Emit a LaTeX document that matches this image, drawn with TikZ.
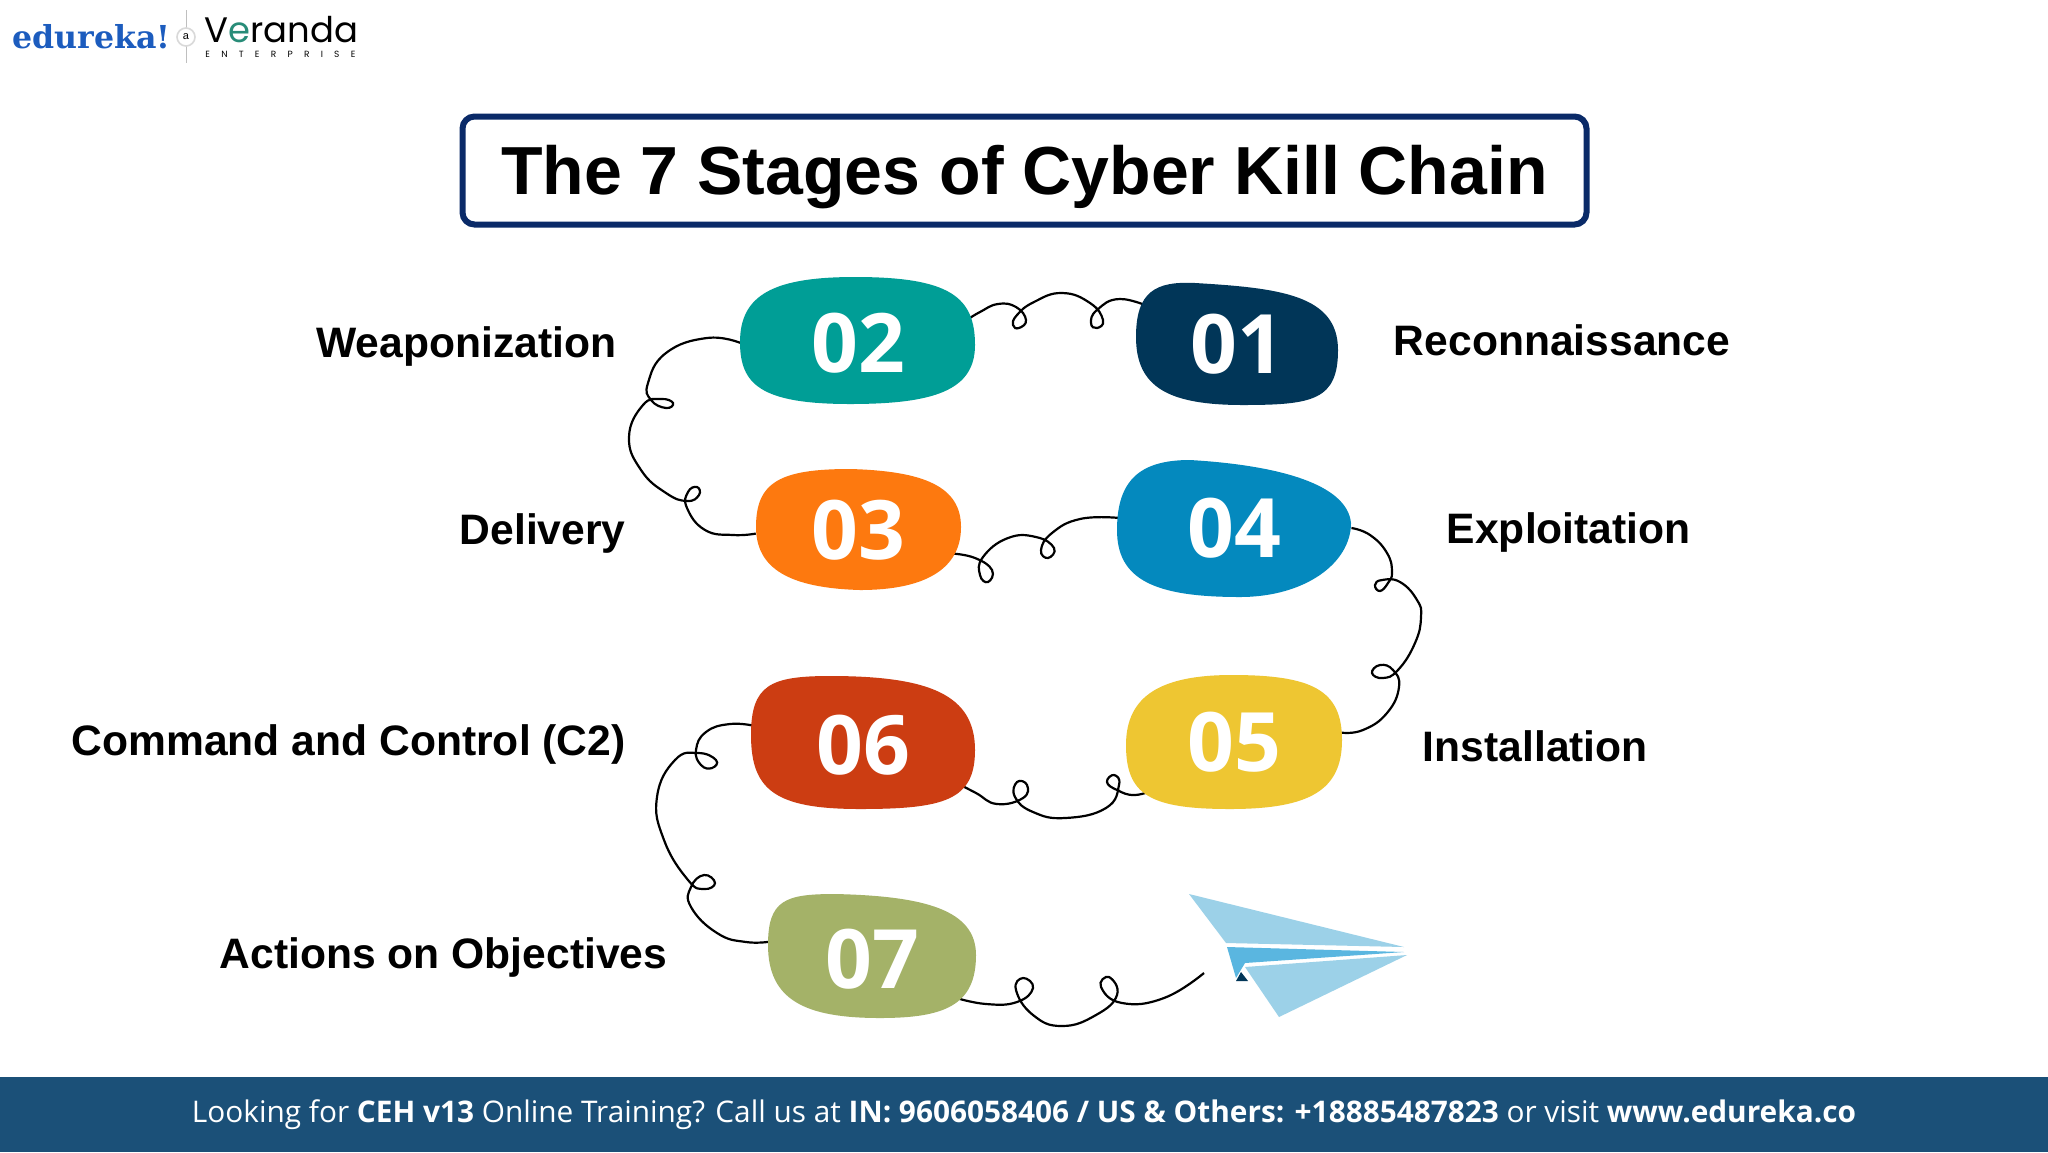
\documentclass[tikz,border=0pt]{standalone}
\usepackage{fontspec}
\usepackage{xcolor}
\setmainfont{Liberation Sans}
\newfontfamily\numfont{Open Sans}
\newfontfamily\logofont{DejaVu Serif}
\newfontfamily\verfont{Poppins}
\usetikzlibrary{positioning,shapes.geometric,backgrounds}
\definecolor{titlenavy}{RGB}{10,42,104}
\definecolor{footblue}{RGB}{27,80,120}
\definecolor{logoblue}{RGB}{28,92,190}
\definecolor{logoteal}{RGB}{40,140,120}
\definecolor{cteal}{RGB}{0,158,150}
\definecolor{cnavy}{RGB}{1,54,88}
\definecolor{corange}{RGB}{253,121,15}
\definecolor{cblue}{RGB}{4,137,190}
\definecolor{cyellow}{RGB}{238,198,50}
\definecolor{cred}{RGB}{204,61,18}
\definecolor{cgreen}{RGB}{164,178,104}
\definecolor{planelight}{RGB}{156,209,232}
\definecolor{planemid}{RGB}{90,182,224}

\begin{document}
\begin{tikzpicture}[x=0.5pt,y=-0.5pt,
          numnode/.style={ellipse, inner sep=0pt, text=white,
                          font=\numfont\bfseries\fontsize{41}{41}\selectfont},
          stagelabel/.style={font=\bfseries\fontsize{21.3}{21.3}\selectfont, text=black},
          squiggle/.style={line width=1.1pt, black}]
  \useasboundingbox (0,0) rectangle (2048,1152);

  % stage blobs
  \node[numnode, minimum width=101pt, minimum height=61pt] (n01) at (1237,344) {01};
  \node[numnode, minimum width=117pt, minimum height=63pt] (n02) at (858,343) {02};
  \node[numnode, minimum width=102pt, minimum height=60pt] (n03) at (858,530) {03};
  \node[numnode, minimum width=117pt, minimum height=68pt] (n04) at (1234,528) {04};
  \node[numnode, minimum width=108pt, minimum height=67pt] (n05) at (1234,742) {05};
  \node[numnode, minimum width=112pt, minimum height=66pt] (n06) at (863,745) {06};
  \node[numnode, minimum width=104pt, minimum height=62pt] (n07) at (872,959) {07};

  % labels
  \node[stagelabel, left=58.7pt of n02, yshift=-1.8pt] (l02) {Weaponization};
  \node[stagelabel, right=24.2pt of n01, yshift=2pt] (l01) {Reconnaissance};
  \node[stagelabel, left=61.5pt of n03, yshift=-1.6pt] (l03) {Delivery};
  \node[stagelabel, right=44.2pt of n04, yshift=-2.4pt] (l04) {Exploitation};
  \node[stagelabel, left=59pt of n06, yshift=0.3pt] (l06) {Command and Control (C2)};
  \node[stagelabel, right=36.7pt of n05, yshift=-2pt] (l05) {Installation};
  \node[stagelabel, left=46.7pt of n07, yshift=0.8pt] (l07) {Actions on Objectives};

  % title and footer
  \node[draw=titlenavy, line width=3pt, fill=white, rounded corners=6pt,
        minimum width=562pt, minimum height=54pt, text height=24.5pt, text depth=0.5pt,
        font=\bfseries\fontsize{34}{34}\selectfont] (title) at (1024.5,170.5)
        {The 7 Stages of Cyber Kill Chain};
  \node[fill=footblue, minimum width=1024pt, minimum height=37.5pt, inner sep=0pt,
        text=white, font=\numfont\fontsize{14.9}{14.9}\selectfont] (foot) at (1024,1114.5)
        {Looking for \textbf{CEH v13} Online Training? Call us at \textbf{IN: 9606058406 / US \& Others: +18885487823} or visit \textbf{www.edureka.co}};

  % logo
  \node[anchor=west, inner sep=0pt, text=logoblue,
        font=\logofont\bfseries\fontsize{15.8}{15.8}\selectfont] (edu) at (12,37) {edureka!};
  \coordinate (septop) at (186,10);
  \coordinate (sepbot) at (186,63);
  \draw[black!25, line width=0.4pt] (septop) -- (sepbot);
  \node[circle, draw=black!15, line width=0.8pt, fill=white, inner sep=0pt, minimum size=9pt,
        font=\fontsize{5.5}{5.5}\selectfont] (at) at (186,37) {a};
  \node[anchor=west, inner sep=0pt, font=\verfont\fontsize{17.7}{17.7}\selectfont] (ver) at (204,30) {V\textcolor{logoteal}{e}randa};
  \node[anchor=west, inner sep=0pt, font=\verfont\fontsize{4.5}{4.5}\selectfont] (ent) at (205,54)
        {\makebox[75pt][s]{E\hfill N\hfill T\hfill E\hfill R\hfill P\hfill R\hfill I\hfill S\hfill E}};

  \coordinate (planeend) at (1204,973);

  \begin{scope}[on background layer]
    \fill[white] (0,0) rectangle (2048,1152);
    % connectors
    \draw[squiggle] plot[smooth, tension=0.8] coordinates {(n01.157) (1120,299) (1097,310) (1091,323) (1097,328) (1103,320) (1090,303) (1062,293) (1034,302) (1017,315) (1013,325) (1019,328) (1026,320) (1016,307) (998,304) (980,312) (n02.12)};
    \draw[squiggle] plot[smooth, tension=0.8] coordinates {(n02.180) (707,338) (666,353) (648,383) (651,400) (666,408) (673,403) (661,399) (643,405) (629,437) (641,470) (666,493) (687,501) (699,495) (697,487) (688,492) (687,508) (705,530) (733,535) (n03.182)};
    \draw[squiggle] plot[smooth, tension=0.8] coordinates {(n03.346) (975,558) (992,570) (988,582) (980,575) (983,557) (1008,538) (1036,537) (1054,548) (1048,558) (1041,550) (1052,533) (1080,519) (n04.175)};
    \draw[squiggle] plot[smooth, tension=0.8] coordinates {(n04.east) (1370,535) (1387,553) (1392,572) (1388,583) (1380,591) (1375,585) (1382,580) (1400,582) (1417,600) (1421,617) (1415,643) (1398,670) (1383,678) (1372,673) (1380,665) (1393,670) (1399,687) (1387,713) (1363,730) (n05.5)};
    \draw[squiggle] plot[smooth, tension=0.8] coordinates {(n05.211) (1135,795) (1117,790) (1107,782) (1114,775) (1119,785) (1106,808) (1065,818) (1033,812) (1015,797) (1017,782) (1027,785) (1023,798) (997,804) (976,793) (n06.338)};
    \draw[squiggle] plot[smooth, tension=0.8] coordinates {(n06.170) (730,724) (706,732) (696,750) (701,765) (712,768) (716,760) (698,753) (675,760) (657,797) (664,840) (688,880) (704,889) (715,883) (704,875) (691,887) (691,907) (717,933) (746,942) (n07.170)};
    \draw[squiggle] plot[smooth, tension=0.8] coordinates {(n07.335) (986,1004) (1017,1002) (1033,988) (1023,978) (1016,990) (1033,1015) (1062,1026) (1096,1015) (1117,995) (1109,977) (1101,987) (1122,1003) (1164,998) (planeend)};
    % blob outlines
    \fill[cnavy] (1195,283) .. controls +(85,5) and +(0,-55) .. (1338,350) .. controls +(0,50) and +(70,0) .. (1243,405) .. controls +(-75,0) and +(0,50) .. (1136,337) .. controls +(0,-45) and +(-40,-2) .. cycle;
    \fill[cteal] (855,277) .. controls +(95,0) and +(0,-48) .. (975,345) .. controls +(0,45) and +(85,0) .. (850,404) .. controls +(-90,0) and +(0,42) .. (740,342) .. controls +(0,-48) and +(-80,0) .. cycle;
    \fill[corange] (850,469) .. controls +(75,2) and +(0,-40) .. (961,527) .. controls +(0,42) and +(65,0) .. (860,590) .. controls +(-70,-2) and +(0,42) .. (756,527) .. controls +(0,-45) and +(-70,0) .. cycle;
    \fill[cblue] (1190,460) .. controls +(85,5) and +(-4,-40) .. (1351,523) .. controls +(0,40) and +(65,0) .. (1240,597) .. controls +(-85,0) and +(0,50) .. (1117,530) .. controls +(0,-50) and +(-50,0) .. cycle;
    \fill[cyellow] (1232,675) .. controls +(80,0) and +(0,-50) .. (1342,740) .. controls +(0,50) and +(80,0) .. (1230,809) .. controls +(-80,0) and +(0,50) .. (1126,745) .. controls +(0,-50) and +(-70,0) .. cycle;
    \fill[cred] (830,676) .. controls +(100,0) and +(0,-55) .. (975,750) .. controls +(0,50) and +(85,0) .. (860,809) .. controls +(-85,0) and +(0,55) .. (751,735) .. controls +(0,-50) and +(-60,0) .. cycle;
    \fill[cgreen] (835,894) .. controls +(90,2) and +(0,-45) .. (976,955) .. controls +(0,50) and +(65,0) .. (880,1018) .. controls +(-75,0) and +(0,55) .. (768,945) .. controls +(0,-45) and +(-50,0) .. cycle;
    % paper plane
    \fill[planelight] (1189,894) -- (1226,943) -- (1404,947) -- cycle;
    \fill[planemid] (1227,947) -- (1404,952) -- (1245,963) -- (1236,978) -- cycle;
    \fill[planelight] (1245,967) -- (1407,955) -- (1279,1017) -- cycle;
    \fill[cnavy] (1241,972) -- (1236,981) -- (1248,981) -- cycle;
  \end{scope}
\end{tikzpicture}
\end{document}
